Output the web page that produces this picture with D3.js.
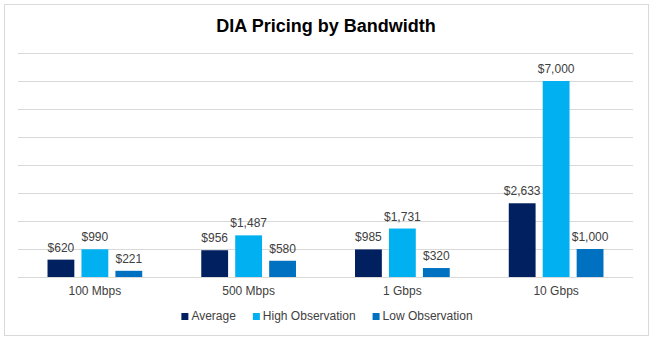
<!DOCTYPE html>
<html>
<head>
<meta charset="utf-8">
<script src="https://cdnjs.cloudflare.com/ajax/libs/d3/7.8.5/d3.min.js"></script>
<style>
  body { margin: 0; background: #fff; }
  svg text { font-family: "Liberation Sans", Arial, sans-serif; }
</style>
</head>
<body>
<script>
var categories = ["100 Mbps", "500 Mbps", "1 Gbps", "10 Gbps"];
var seriesNames = ["Average", "High Observation", "Low Observation"];
var average = [620, 956, 985, 2633];
var highObs = [990, 1487, 1731, 7000];
var lowObs = [221, 580, 320, 1000];
var yTicks = [0, 1000, 2000, 3000, 4000, 5000, 6000, 7000, 8000];
var colors = ["#002060", "#00b0f0", "#0070c0"];

var chart = {
  "width": 657,
  "height": 344,
  "left": 18,
  "right": 633,
  "top": 53,
  "bottom": 277
};

var series = [average, highObs, lowObs];

var svg = d3.select("body")
            .append("svg")
            .attr("width", chart.width)
            .attr("height", chart.height);

// outer frame
svg.append("rect")
   .attr("x", 4.5)
   .attr("y", 4.5)
   .attr("width", 644)
   .attr("height", 331)
   .attr("fill", "#fff")
   .attr("stroke", "#d9d9d9");

svg.append("text")
   .attr("x", 326)
   .attr("y", 32)
   .attr("text-anchor", "middle")
   .attr("font-size", 18)
   .attr("font-weight", "bold")
   .attr("fill", "#000")
   .text("DIA Pricing by Bandwidth");

var x0 = d3.scaleBand()
           .domain(categories)
           .range([chart.left, chart.right])
           .paddingInner(0.384)
           .paddingOuter(0.192);

var x1 = d3.scaleBand()
           .domain(seriesNames)
           .range([0, x0.bandwidth()])
           .paddingInner(0.21);

var y = d3.scaleLinear()
          .domain([0, 8000])
          .range([chart.bottom, chart.top]);

// horizontal gridlines
svg.append("g")
   .selectAll("line")
   .data(yTicks)
   .join("line")
   .attr("x1", chart.left)
   .attr("x2", chart.right)
   .attr("y1", function(d) { return Math.round(y(d)) + 0.5; })
   .attr("y2", function(d) { return Math.round(y(d)) + 0.5; })
   .attr("stroke", "#d9d9d9")
   .attr("stroke-width", 1);

var groups = svg.append("g")
                .selectAll("g")
                .data(categories)
                .join("g")
                .attr("transform", function(d) { return "translate(" + x0(d) + ",0)"; });

var cells = groups.selectAll("g")
                  .data(function(d, i) {
                    return seriesNames.map(function(s, j) {
                      return { name: s, value: series[j][i], color: colors[j] };
                    });
                  })
                  .join("g");

cells.append("rect")
     .attr("x", function(d) { return x1(d.name); })
     .attr("y", function(d) { return y(d.value); })
     .attr("width", x1.bandwidth())
     .attr("height", function(d) { return y(0) - y(d.value); })
     .attr("fill", function(d) { return d.color; });

cells.append("text")
     .attr("x", function(d) { return x1(d.name) + x1.bandwidth() / 2; })
     .attr("y", function(d) { return y(d.value) - 8; })
     .attr("text-anchor", "middle")
     .attr("font-size", 12)
     .attr("fill", "#404040")
     .text(function(d) { return "$" + d3.format(",")(d.value); });

// category axis labels
svg.append("g")
   .selectAll("text")
   .data(categories)
   .join("text")
   .attr("x", function(d) { return x0(d) + x0.bandwidth() / 2; })
   .attr("y", 295)
   .attr("text-anchor", "middle")
   .attr("font-size", 12)
   .attr("fill", "#404040")
   .text(function(d) { return d; });

// legend, centred under the plot
var legend = svg.append("g");
var items = legend.selectAll("g")
                  .data(seriesNames)
                  .join("g");

items.append("rect")
     .attr("width", 7)
     .attr("height", 7)
     .attr("y", 313)
     .attr("fill", function(d, i) { return colors[i]; });

items.append("text")
     .attr("x", 10)
     .attr("y", 320)
     .attr("font-size", 12)
     .attr("fill", "#404040")
     .text(function(d) { return d; });

var offset = 0;
items.each(function() {
  var w = d3.select(this).select("text").node().getComputedTextLength();
  d3.select(this).attr("transform", "translate(" + offset + ",0)");
  offset += 10 + w + 17;
});
var total = offset - 17;
legend.attr("transform", "translate(" + (327 - total / 2) + ",0)");
</script>
</body>
</html>
